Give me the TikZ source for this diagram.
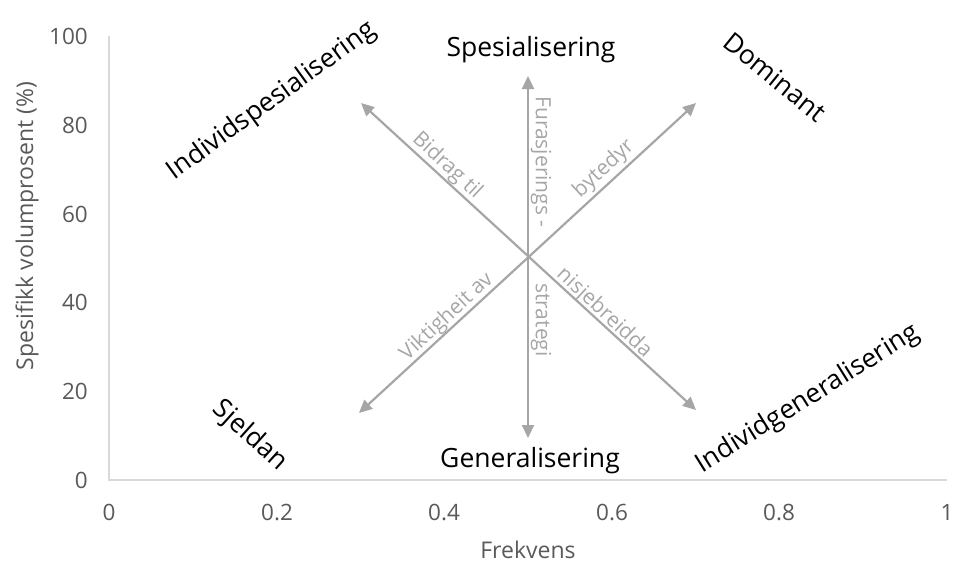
\documentclass[tikz,border=0pt]{standalone}
\usepackage{fontspec}
\setmainfont{Open Sans}
\usetikzlibrary{arrows.meta}
\definecolor{axisgray}{HTML}{D9D9D9}
\definecolor{ticktext}{HTML}{595959}
\definecolor{arrgray}{HTML}{A6A6A6}
\tikzset{
  axisline/.style={draw=axisgray, line width=1.5pt},
  ticklbl/.style={text=ticktext, font=\fontsize{22.5}{26}\selectfont, inner sep=0pt},
  axtitle/.style={text=ticktext, font=\fontsize{23}{28}\selectfont, inner sep=0pt},
  armarrow/.style={draw=arrgray, line width=2.2pt, {Triangle[length=13pt,width=12pt]}-{Triangle[length=13pt,width=12pt]}},
  armlbl/.style={text=arrgray, font=\fontsize{21}{24}\selectfont, inner sep=0pt},
  biglbl/.style={text=black, font=\fontsize{26.5}{30}\selectfont, inner sep=0pt},
}
\begin{document}
\begin{tikzpicture}[x=1pt,y=-1pt]
\useasboundingbox (0,0) rectangle (955,563);
% axes
\coordinate (O) at (109,480);
\coordinate (Ytop) at (109,36);
\coordinate (Xend) at (947,480);
\draw[axisline] (Ytop) -- (O) -- (Xend);
% y ticks
\node[ticklbl, anchor=east] (y0) at (88,480) {0};
\node[ticklbl, anchor=east] (y20) at (88,391) {20};
\node[ticklbl, anchor=east] (y40) at (88,302) {40};
\node[ticklbl, anchor=east] (y60) at (88,214) {60};
\node[ticklbl, anchor=east] (y80) at (88,125) {80};
\node[ticklbl, anchor=east] (y100) at (88,36) {100};
% x ticks
\node[ticklbl] (x0) at (109,512) {0};
\node[ticklbl] (x2) at (277,512) {0.2};
\node[ticklbl] (x4) at (444,512) {0.4};
\node[ticklbl] (x6) at (612,512) {0.6};
\node[ticklbl] (x8) at (779,512) {0.8};
\node[ticklbl] (x10) at (947,512) {1};
% axis titles
\node[axtitle] (xt) at (528,550) {Frekvens};
\node[axtitle, rotate=90] (yt) at (27,226) {Spesifikk volumprosent (\%)};
% arrows
\coordinate (C) at (528,258);
\coordinate (N) at (528,76);
\coordinate (S) at (528,438);
\coordinate (NE) at (696,103);
\coordinate (NW) at (361,103);
\coordinate (SW) at (359,413);
\coordinate (SE) at (696,410);
\draw[armarrow] (N) -- (S);
\draw[armarrow] (SW) -- (NE);
\draw[armarrow] (NW) -- (SE);
% arm labels
\node[armlbl, rotate=-42.8] (l1) at (447,166) {Bidrag til};
\node[armlbl, rotate=42.8] (l2) at (604,169) {bytedyr};
\node[armlbl, rotate=42.8] (l3) at (447,317) {Viktigheit av};
\node[armlbl, rotate=-42.8] (l4) at (604,313) {nisjebreidda};
\node[armlbl, rotate=-90] (l5) at (541,162) {Furasjerings -};
\node[armlbl, rotate=-90] (l6) at (541,320) {strategi};
% big labels
\node[biglbl] (spes) at (531,50) {Spesialisering};
\node[biglbl] (gen) at (530,461) {Generalisering};
\node[biglbl, rotate=-39] (dom) at (775,77) {Dominant};
\node[biglbl, rotate=36] (isp) at (272,101) {Individspesialisering};
\node[biglbl, rotate=-42] (sj) at (250,436) {Sjeldan};
\node[biglbl, rotate=32] (igen) at (808,399) {Individgeneralisering};
\end{tikzpicture}
\end{document}
